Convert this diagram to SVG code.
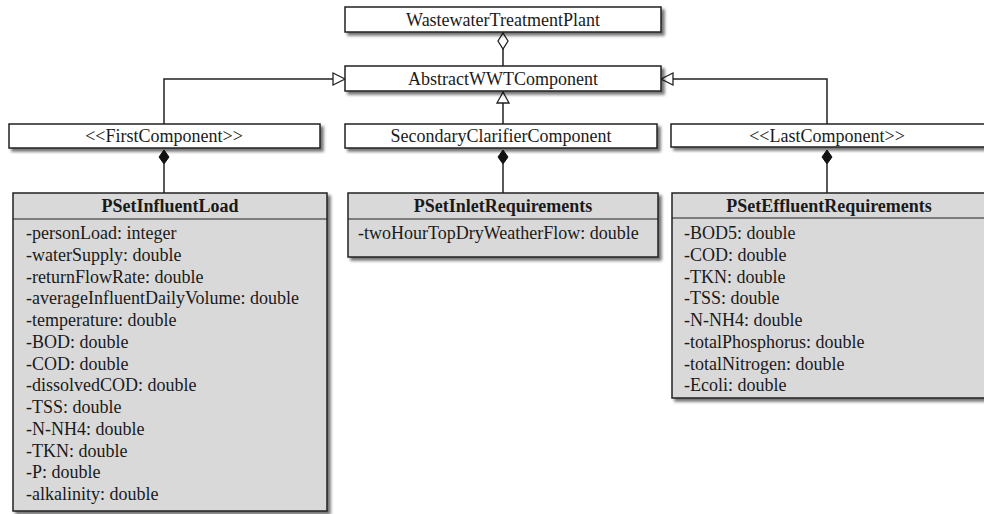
<svg xmlns="http://www.w3.org/2000/svg" width="984" height="514" viewBox="0 0 984 514">
<defs>
<filter id="sh" x="-5%" y="-5%" width="115%" height="130%">
<feDropShadow dx="3" dy="3" stdDeviation="1.5" flood-color="#000" flood-opacity="0.55"/>
</filter>
<style>
.box{fill:#fff;stroke:#222;stroke-width:1.5;filter:url(#sh)}
.cls{fill:#d9d9d9;stroke:#222;stroke-width:1.5;filter:url(#sh)}
.sep{stroke:#222;stroke-width:1.2}
.t{font-family:"Liberation Serif","Times New Roman",serif;font-size:18px;fill:#1a1a1a}
.c{text-anchor:middle}
.b{font-weight:bold;font-size:18px}
.ln{fill:none;stroke:#222;stroke-width:1.5}
.hol{fill:#fff;stroke:#222;stroke-width:1.3}
.fil{fill:#111;stroke:#111;stroke-width:1}
</style>
</defs>
<rect width="984" height="514" fill="#fff"/>
<g id="connectors">
<path class="ln" d="M503,49 V66"/>
<polygon class="hol" points="503,33 508,41 503,49 498,41"/>
<path class="ln" d="M503,103 V124"/>
<polygon class="hol" points="503,92 509,103 497,103"/>
<path class="ln" d="M164,124 V79 H333"/>
<polygon class="hol" points="345,79 333,73 333,85"/>
<path class="ln" d="M827,124 V79 H673"/>
<polygon class="hol" points="661,79 673,73 673,85"/>
<path class="ln" d="M164,164 V193"/>
<polygon class="fil" points="164,150 169,157 164,164 159,157"/>
<path class="ln" d="M503,164 V193"/>
<polygon class="fil" points="503,150 508,157 503,164 498,157"/>
<path class="ln" d="M827,164 V193"/>
<polygon class="fil" points="827,150 832,157 827,164 822,157"/>
</g>
<g id="wwtp">
<rect class="box" x="345" y="7" width="316" height="25"/>
<text class="t c" x="503" y="26">WastewaterTreatmentPlant</text>
</g>
<g id="abstract">
<rect class="box" x="345" y="66" width="316" height="25"/>
<text class="t c" x="503" y="85">AbstractWWTComponent</text>
</g>
<g id="first">
<rect class="box" x="9" y="124" width="311" height="24"/>
<text class="t c" x="164" y="142">&lt;&lt;FirstComponent&gt;&gt;</text>
</g>
<g id="secondary">
<rect class="box" x="345" y="124" width="312" height="24"/>
<text class="t c" x="501" y="142">SecondaryClarifierComponent</text>
</g>
<g id="last">
<rect class="box" x="671" y="124" width="320" height="23"/>
<text class="t c" x="827" y="142">&lt;&lt;LastComponent&gt;&gt;</text>
</g>
<g id="influent">
<rect class="cls" x="13" y="193" width="314" height="318"/>
<line class="sep" x1="13" y1="219" x2="327" y2="219"/>
<text class="t c b" x="170" y="212">PSetInfluentLoad</text>
<text class="t" x="26" y="239">-personLoad: integer</text>
<text class="t" x="26" y="261">-waterSupply: double</text>
<text class="t" x="26" y="283">-returnFlowRate: double</text>
<text class="t" x="26" y="304">-averageInfluentDailyVolume: double</text>
<text class="t" x="26" y="326">-temperature: double</text>
<text class="t" x="26" y="348">-BOD: double</text>
<text class="t" x="26" y="370">-COD: double</text>
<text class="t" x="26" y="391">-dissolvedCOD: double</text>
<text class="t" x="26" y="413">-TSS: double</text>
<text class="t" x="26" y="435">-N-NH4: double</text>
<text class="t" x="26" y="457">-TKN: double</text>
<text class="t" x="26" y="478">-P: double</text>
<text class="t" x="26" y="500">-alkalinity: double</text>
</g>
<g id="inlet">
<rect class="cls" x="348" y="193" width="310" height="64"/>
<line class="sep" x1="348" y1="219" x2="658" y2="219"/>
<text class="t c b" x="503" y="212">PSetInletRequirements</text>
<text class="t" x="358" y="239">-twoHourTopDryWeatherFlow: double</text>
</g>
<g id="effluent">
<rect class="cls" x="672" y="193" width="320" height="205"/>
<line class="sep" x1="672" y1="218" x2="992" y2="218"/>
<text class="t c b" x="829" y="212">PSetEffluentRequirements</text>
<text class="t" x="684" y="239">-BOD5: double</text>
<text class="t" x="684" y="261">-COD: double</text>
<text class="t" x="684" y="283">-TKN: double</text>
<text class="t" x="684" y="304">-TSS: double</text>
<text class="t" x="684" y="326">-N-NH4: double</text>
<text class="t" x="684" y="348">-totalPhosphorus: double</text>
<text class="t" x="684" y="370">-totalNitrogen: double</text>
<text class="t" x="684" y="391">-Ecoli: double</text>
</g>
</svg>
